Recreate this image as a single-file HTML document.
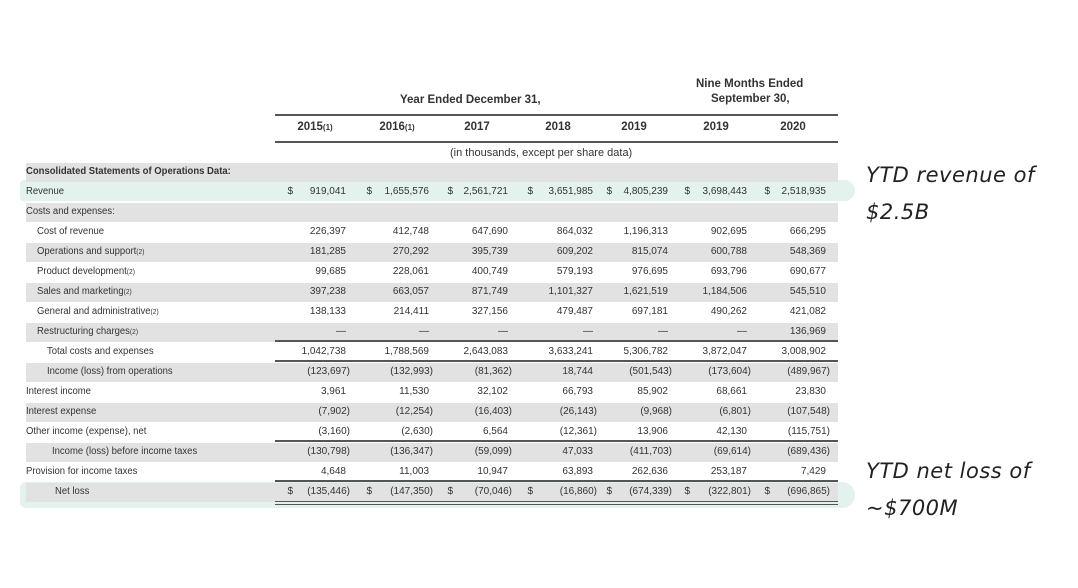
<!DOCTYPE html>
<html><head><style>
body{margin:0;width:1078px;height:588px;background:#fff;position:relative;overflow:hidden;font-family:"Liberation Sans",Arial,sans-serif;color:#333}
.a{position:absolute;white-space:nowrap}
.g{position:absolute;left:26px;width:812px;height:19px;background:#e2e2e2}
.r{position:absolute;left:275px;width:563px;height:2px;background:#555}
.t{font-size:10px;transform:scaleX(0.95);transform-origin:left}
.n{font-size:10px;text-align:right;width:80px}
.h{font-weight:bold;font-size:11.5px;color:#333}
.hw{position:absolute;font-family:"DejaVu Sans",sans-serif;font-style:oblique;font-size:21px;color:#222;font-weight:300;letter-spacing:0.5px}
</style></head><body>
<div class="a" style="left:20px;top:180px;width:835px;height:21px;background:rgba(200,230,224,0.5);border-radius:10px 30px 30px 10px"></div>
<div class="a" style="left:20px;top:482px;width:835px;height:26px;background:rgba(200,230,224,0.5);border-radius:14px 30px 30px 14px"></div>
<div id="rows"></div>
<div class="a h" style="left:400px;top:94px">Year Ended December 31,</div>
<div class="a h" style="left:696px;top:78px">Nine Months Ended</div>
<div class="a h" style="left:711px;top:93px">September 30,</div>
<div class="r" style="top:114px;height:2px"></div>
<div class="r" style="top:141px;height:2px"></div>
<div class="a" style="left:450px;top:147px;font-size:11px">(in thousands, except per share data)</div>
<div class="r" style="top:340px;height:1.5px"></div>
<div class="r" style="top:360px;height:1.5px"></div>
<div class="r" style="top:440px;height:1.5px"></div>
<div class="r" style="top:480px;height:1.5px"></div>
<div class="r" style="top:501px;height:1px"></div><div class="r" style="top:504px;height:1px"></div>
<div class="hw" style="left:866px;top:163px">YTD revenue of</div>
<div class="hw" style="left:866px;top:200px">$2.5B</div>
<div class="hw" style="left:866px;top:459px">YTD net loss of</div>
<div class="hw" style="left:866px;top:496px">~$700M</div>
<script>
var hdr=[["2015","(1)",315],["2016","(1)",397],["2017","",477],["2018","",558],["2019","",634],["2019","",716],["2020","",793]];
var R=[346,429,508,593,668,747,826],D=[285,364,445,525,604,682,762];
var rows=[
["Consolidated Statements of Operations Data:",26,1,null],
["Revenue",26,0,["919,041","1,655,576","2,561,721","3,651,985","4,805,239","3,698,443","2,518,935"],1],
["Costs and expenses:",26,0,null],
["Cost of revenue",37,0,["226,397","412,748","647,690","864,032","1,196,313","902,695","666,295"]],
["Operations and support(2)",37,0,["181,285","270,292","395,739","609,202","815,074","600,788","548,369"]],
["Product development(2)",37,0,["99,685","228,061","400,749","579,193","976,695","693,796","690,677"]],
["Sales and marketing(2)",37,0,["397,238","663,057","871,749","1,101,327","1,621,519","1,184,506","545,510"]],
["General and administrative(2)",37,0,["138,133","214,411","327,156","479,487","697,181","490,262","421,082"]],
["Restructuring charges(2)",37,0,["—","—","—","—","—","—","136,969"]],
["Total costs and expenses",47,0,["1,042,738","1,788,569","2,643,083","3,633,241","5,306,782","3,872,047","3,008,902"]],
["Income (loss) from operations",47,0,["(123,697)","(132,993)","(81,362)","18,744","(501,543)","(173,604)","(489,967)"]],
["Interest income",26,0,["3,961","11,530","32,102","66,793","85,902","68,661","23,830"]],
["Interest expense",26,0,["(7,902)","(12,254)","(16,403)","(26,143)","(9,968)","(6,801)","(107,548)"]],
["Other income (expense), net",26,0,["(3,160)","(2,630)","6,564","(12,361)","13,906","42,130","(115,751)"]],
["Income (loss) before income taxes",52,0,["(130,798)","(136,347)","(59,099)","47,033","(411,703)","(69,614)","(689,436)"]],
["Provision for income taxes",26,0,["4,648","11,003","10,947","63,893","262,636","253,187","7,429"]],
["Net loss",55,0,["(135,446)","(147,350)","(70,046)","(16,860)","(674,339)","(322,801)","(696,865)"],1]];
var h="";
hdr.forEach(function(c){h+='<div class="a h" style="left:'+(c[2]-22)+'px;top:121px;width:44px;text-align:center">'+c[0]+'<span style="font-size:8px">'+c[1]+'</span></div>';});
rows.forEach(function(r,i){var y=163+i*20;
 if(i%2==0)h+='<div class="g" style="top:'+y+'px"></div>';
 var lab=r[0].replace(/\((\d)\)$/,'<span style="font-size:7px">($1)</span>');
 h+='<div class="a t" style="left:'+r[1]+'px;top:'+(y+3)+'px;'+(r[2]?'font-weight:bold':'')+'">'+lab+'</div>';
 if(r[3])r[3].forEach(function(v,j){var p=v.charAt(0)=="("?4:0;
  h+='<div class="a n" style="left:'+(R[j]-80+p)+'px;top:'+(y+3)+'px">'+v+'</div>';
  if(r[4])h+='<div class="a n" style="left:'+D[j]+'px;top:'+(y+3)+'px;width:8px">$</div>';});
});
document.getElementById("rows").innerHTML=h;
</script>
</body></html>
